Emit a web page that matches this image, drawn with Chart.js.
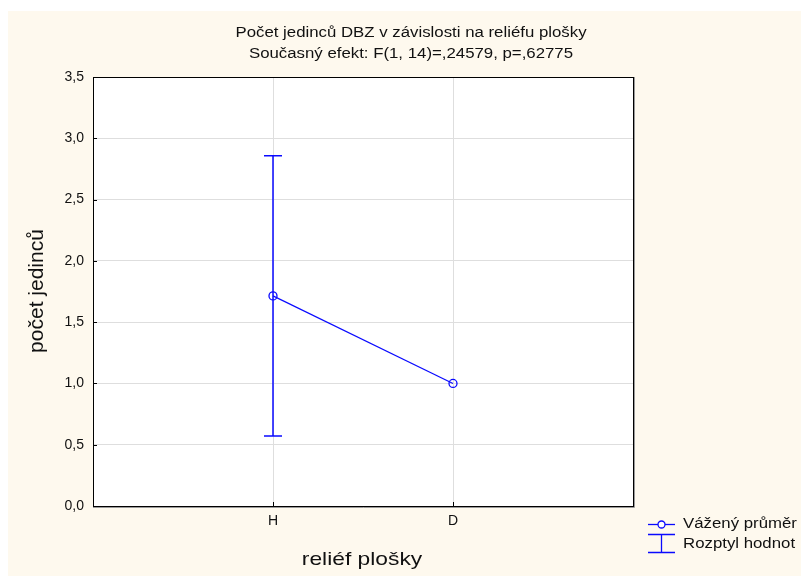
<!DOCTYPE html>
<html>
<head>
<meta charset="utf-8">
<script src="https://cdn.jsdelivr.net/npm/chart.js@4.4.1/dist/chart.umd.min.js"></script>
<style>
  html, body { margin: 0; padding: 0; background: #ffffff; }
  #wrap { width: 801px; height: 577px; position: relative; }
</style>
</head>
<body>
<div id="wrap"><canvas id="c" width="801" height="577"></canvas></div>
<script>
// Categories of the factor "reliéf plošky"
const categories = ['H', 'D'];
// Weighted means per category
const means = [1.714, 1.0];
// Range of values (lower / upper whisker) per category
const rangeLow = [0.571, 1.0];
const rangeHigh = [2.857, 1.0];
// Y axis ticks
const yMin = 0, yMax = 3.5, yStep = 0.5;

const titleLines = [
  'Počet jedinců DBZ v závislosti na reliéfu plošky',
  'Současný efekt: F(1, 14)=,24579, p=,62775'
];
const yTitle = 'počet jedinců';
const xTitle = 'reliéf plošky';
const legendLabels = ['Vážený průměr', 'Rozptyl hodnot'];

const BLUE = '#0a0aff';
const CREAM = '#fef9ee';
const FONT = '"Liberation Sans", Arial, sans-serif';

function stretchedText(ctx, text, x, y, size, sx, align) {
  ctx.save();
  ctx.font = size + 'px ' + FONT;
  ctx.fillStyle = '#111';
  ctx.textBaseline = 'middle';
  const w = ctx.measureText(text).width * sx;
  let left = x;
  if (align === 'center') left = x - w / 2;
  ctx.translate(left, y);
  ctx.scale(sx, 1);
  ctx.textAlign = 'left';
  ctx.fillText(text, 0, 0);
  ctx.restore();
}

const backdrop = {
  id: 'backdrop',
  beforeDraw(chart) {
    const { ctx, chartArea: a } = chart;
    ctx.save();
    ctx.fillStyle = '#ffffff';
    ctx.fillRect(0, 0, chart.width, chart.height);
    ctx.fillStyle = CREAM;
    ctx.fillRect(8, 11, chart.width - 8, chart.height - 12);
    ctx.fillStyle = '#ffffff';
    ctx.fillRect(a.left, a.top, a.right - a.left, a.bottom - a.top);
    ctx.restore();
  }
};

const errorBars = {
  id: 'errorBars',
  afterDatasetsDraw(chart) {
    const { ctx } = chart;
    const xs = chart.scales.x, ys = chart.scales.y;
    ctx.save();
    ctx.strokeStyle = BLUE;
    ctx.lineWidth = 1.5;
    categories.forEach((c, i) => {
      if (rangeHigh[i] === rangeLow[i]) return;
      const x = xs.getPixelForValue(i + 1);
      const yh = ys.getPixelForValue(rangeHigh[i]);
      const yl = ys.getPixelForValue(rangeLow[i]);
      ctx.beginPath();
      ctx.moveTo(x, yh); ctx.lineTo(x, yl);
      ctx.moveTo(x - 9, yh); ctx.lineTo(x + 9, yh);
      ctx.moveTo(x - 9, yl); ctx.lineTo(x + 9, yl);
      ctx.stroke();
    });
    ctx.restore();
  }
};

const frameAndText = {
  id: 'frameAndText',
  afterDraw(chart) {
    const { ctx, chartArea: a } = chart;
    const xs = chart.scales.x, ys = chart.scales.y;
    ctx.save();
    // plot frame with a faint shadow
    ctx.strokeStyle = '#9a9a9a';
    ctx.lineWidth = 1;
    ctx.beginPath();
    ctx.moveTo(a.right + 1.5, a.top); ctx.lineTo(a.right + 1.5, a.bottom + 1.5);
    ctx.lineTo(a.left, a.bottom + 1.5);
    ctx.stroke();
    ctx.strokeStyle = '#000';
    ctx.strokeRect(a.left + 0.5, a.top + 0.5, a.right - a.left, a.bottom - a.top);
    // short inward tick marks
    ctx.beginPath();
    ys.ticks.forEach(t => {
      const y = Math.round(ys.getPixelForValue(t.value)) + 0.5;
      ctx.moveTo(a.left, y); ctx.lineTo(a.left + 4, y);
    });
    xs.ticks.forEach(t => {
      const x = Math.round(xs.getPixelForValue(t.value)) + 0.5;
      ctx.moveTo(x, a.bottom); ctx.lineTo(x, a.bottom - 4);
    });
    ctx.stroke();
    ctx.restore();

    // titles
    stretchedText(ctx, titleLines[0], 411, 33, 14, 1.2, 'center');
    stretchedText(ctx, titleLines[1], 411, 54, 14, 1.2, 'center');
    stretchedText(ctx, xTitle, 362, 560, 19, 1.2, 'center');
    ctx.save();
    ctx.translate(37, 291);
    ctx.rotate(-Math.PI / 2);
    ctx.font = '21px ' + FONT;
    ctx.fillStyle = '#111';
    ctx.textAlign = 'center';
    ctx.textBaseline = 'middle';
    ctx.fillText(yTitle, 0, 0);
    ctx.restore();

    // legend
    ctx.save();
    ctx.strokeStyle = BLUE;
    ctx.lineWidth = 1.3;
    ctx.beginPath();
    ctx.moveTo(648, 524.5); ctx.lineTo(675, 524.5);
    ctx.stroke();
    ctx.fillStyle = '#fff';
    ctx.beginPath();
    ctx.arc(661.5, 524.5, 3.5, 0, Math.PI * 2);
    ctx.fill(); ctx.stroke();
    ctx.beginPath();
    ctx.moveTo(648, 534.5); ctx.lineTo(675, 534.5);
    ctx.moveTo(661.5, 534.5); ctx.lineTo(661.5, 552.5);
    ctx.moveTo(648, 552.5); ctx.lineTo(675, 552.5);
    ctx.stroke();
    ctx.restore();
    stretchedText(ctx, legendLabels[0], 683, 524, 14, 1.2, 'left');
    stretchedText(ctx, legendLabels[1], 683, 544, 14, 1.2, 'left');
  }
};

new Chart(document.getElementById('c'), {
  type: 'line',
  data: {
    datasets: [{
      label: legendLabels[0],
      data: means.map((m, i) => ({ x: i + 1, y: m })),
      borderColor: BLUE,
      borderWidth: 1.2,
      pointRadius: 4,
      pointHoverRadius: 4,
      pointStyle: 'circle',
      pointBackgroundColor: 'rgba(255,255,255,0)',
      pointBorderColor: BLUE,
      pointBorderWidth: 1.3,
      tension: 0,
      fill: false
    }]
  },
  options: {
    responsive: false,
    animation: false,
    events: [],
    layout: { padding: { top: 77, right: 168, bottom: 0, left: 0 } },
    plugins: {
      legend: { display: false },
      title: { display: false },
      tooltip: { enabled: false }
    },
    scales: {
      x: {
        type: 'linear',
        min: 0,
        max: categories.length + 1,
        afterBuildTicks: s => { s.ticks = categories.map((c, i) => ({ value: i + 1 })); },
        afterFit: s => { s.height = 71; },
        border: { display: false },
        grid: { color: '#dedede', lineWidth: 1, drawTicks: false },
        ticks: {
          padding: 7,
          color: '#111',
          font: { family: FONT, size: 14 },
          callback: v => categories[v - 1] ?? ''
        }
      },
      y: {
        type: 'linear',
        min: yMin,
        max: yMax,
        afterFit: s => { s.width = 93; },
        border: { display: false },
        grid: { color: '#dedede', lineWidth: 1, drawTicks: false },
        ticks: {
          stepSize: yStep,
          padding: 9,
          color: '#111',
          font: { family: FONT, size: 14 },
          callback: v => v.toFixed(1).replace('.', ',')
        }
      }
    }
  },
  plugins: [backdrop, errorBars, frameAndText]
});
</script>
</body>
</html>
